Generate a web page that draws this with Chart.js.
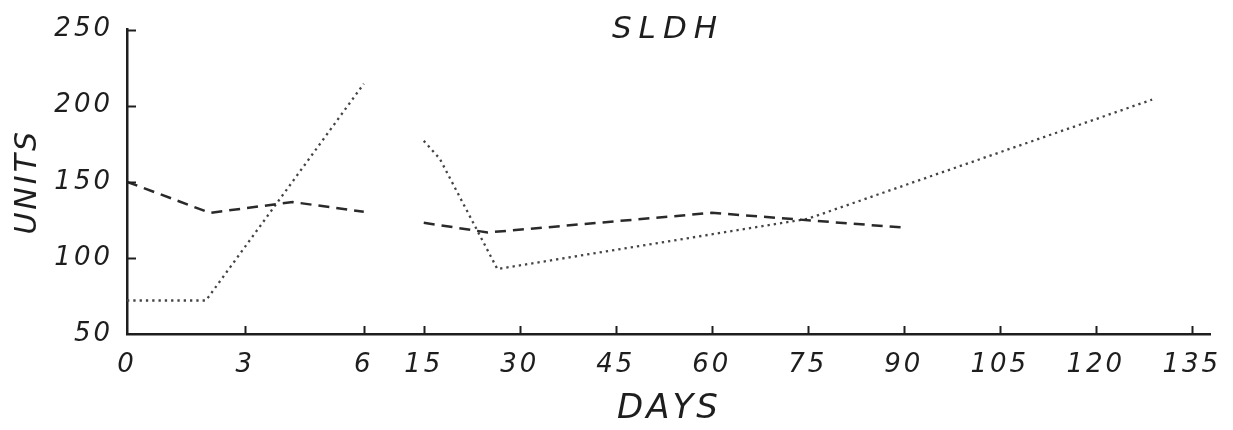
<!DOCTYPE html>
<html>
<head>
<meta charset="utf-8">
<script src="https://cdn.jsdelivr.net/npm/chart.js@4.4.1/dist/chart.umd.min.js"></script>
<style>
  html, body { margin: 0; padding: 0; background: #fff; }
  canvas { display: block; }
</style>
</head>
<body>
<canvas id="sldh" width="1233" height="430"></canvas>
<script>
// tick marks on the broken day axis
const tickDays = [0, 3, 6, 15, 30, 45, 60, 75, 90, 105, 120, 135];
const tickLabels = ["0", "3", "6", "15", "30", "45", "60", "75", "90", "105", "120", "135"];

// dashed series (day 10 / null = break in the axis)
const dashedDays = [0, 2.1, 4.2, 6, 10, 15, 25, 60, 90];
const dashedUnits = [150, 129.6, 136.7, 130.3, null, 123.1, 116.7, 129.6, 119.9];

// dotted series
const dottedDays = [0, 2, 6, 10, 15, 17.5, 26.5, 75, 128.8];
const dottedUnits = [72, 72, 214.4, null, 176.9, 165.2, 92.7, 125.7, 204];

// axis is split: 0-6 days wide, 15-135 days compressed
function dayToPos(d) {
  if (d <= 6) return d;
  if (d < 15) return 6.75;
  return 7.52 + (d - 15) * 0.1622;
}

function toPoints(days, vals) {
  return days.map((d, i) => ({ x: dayToPos(d), y: vals[i] }));
}

const ink = "#1e1e1e";
const font = '"DejaVu Sans"';

const innerTicks = {
  id: "innerTicks",
  beforeDraw(chart) {
    chart.ctx.letterSpacing = "3px";
  },
  afterDraw(chart) {
    const ctx = chart.ctx;
    const xs = chart.scales.x, ys = chart.scales.y;
    ctx.save();
    ctx.strokeStyle = ink;
    ctx.lineWidth = 2;
    xs.ticks.forEach((t, i) => {
      if (i === 0) return;
      const px = Math.round(xs.getPixelForValue(t.value)) + 0.5;
      ctx.beginPath();
      ctx.moveTo(px, ys.bottom);
      ctx.lineTo(px, ys.bottom - 8);
      ctx.stroke();
    });
    ys.ticks.forEach((t, i) => {
      if (i === 0) return;
      const py = Math.round(ys.getPixelForValue(t.value)) + 0.5;
      ctx.beginPath();
      ctx.moveTo(xs.left, py);
      ctx.lineTo(xs.left + 9, py);
      ctx.stroke();
    });
    // title inside the plot
    ctx.fillStyle = ink;
    ctx.font = "italic 31px " + font;
    ctx.letterSpacing = "7px";
    ctx.textAlign = "center";
    ctx.textBaseline = "alphabetic";
    ctx.fillText("SLDH", 668, 38);
    ctx.restore();
  }
};

new Chart(document.getElementById("sldh"), {
  type: "line",
  data: {
    datasets: [
      {
        label: "dashed",
        data: toPoints(dashedDays, dashedUnits),
        borderColor: "#2a2a2a",
        borderWidth: 2.5,
        borderDash: [11, 7],
        pointRadius: 0,
        tension: 0,
        spanGaps: false
      },
      {
        label: "dotted",
        data: toPoints(dottedDays, dottedUnits),
        borderColor: "#444444",
        borderWidth: 2.3,
        borderDash: [2.3, 4],
        pointRadius: 0,
        tension: 0,
        spanGaps: false
      }
    ]
  },
  options: {
    responsive: false,
    animation: false,
    devicePixelRatio: 1,
    layout: { padding: { top: 24, right: 21, left: 0, bottom: 0 } },
    plugins: { legend: { display: false }, tooltip: { enabled: false }, title: { display: false } },
    scales: {
      x: {
        type: "linear",
        min: 0,
        max: 27.47,
        afterBuildTicks: scale => { scale.ticks = tickDays.map(d => ({ value: dayToPos(d) })); },
        afterFit: scale => { scale.height = 96; },
        grid: { display: false, drawTicks: false },
        border: { display: true, color: ink, width: 2.5 },
        ticks: {
          autoSkip: false,
          maxRotation: 0,
          padding: 16,
          color: ink,
          font: { family: font, style: "italic", size: 26 },
          callback: (v, i) => tickLabels[i]
        },
        title: {
          display: true,
          text: "DAYS",
          color: ink,
          padding: { top: 0, bottom: 0 },
          font: { family: font, style: "italic", size: 34, lineHeight: 1.2 }
        }
      },
      y: {
        min: 50,
        max: 250,
        afterFit: scale => { scale.width = 127; },
        grid: { display: false, drawTicks: false },
        border: { display: true, color: ink, width: 2.5 },
        ticks: {
          stepSize: 50,
          padding: 14,
          color: ink,
          font: { family: font, style: "italic", size: 26 }
        },
        title: {
          display: true,
          text: "UNITS",
          color: ink,
          padding: { top: 10, bottom: 0 },
          font: { family: font, style: "italic", size: 30, lineHeight: 1.2 }
        }
      }
    }
  },
  plugins: [innerTicks]
});
</script>
</body>
</html>
